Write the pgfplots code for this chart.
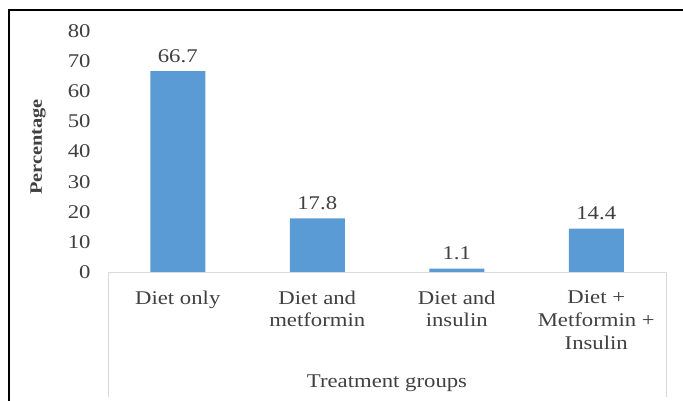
\documentclass[border=0pt]{standalone}
\usepackage{pgfplots}
\pgfplotsset{compat=1.18}
\usepackage{fontspec}
\setmainfont{Liberation Serif}[FakeStretch=1.17]
\definecolor{barblue}{HTML}{5B9BD5}
\definecolor{axgray}{HTML}{D9D9D9}
\definecolor{txtgray}{HTML}{404040}
\begin{document}
\begin{tikzpicture}[x=1bp,y=1bp]
\useasboundingbox (0,0) rectangle (683,-400);
\fill[white] (0,0) rectangle (683,-400);
\draw[line width=1.6bp] (9,-401) -- (9,-10) -- (684,-10);
\draw[axgray, line width=1bp] (108,-272) -- (108,-397);
\draw[axgray, line width=1bp] (666,-272) -- (666,-397);
\begin{axis}[
  at={(108bp,-272bp)}, anchor=south west,
  scale only axis, width=558bp, height=241bp,
  xmin=-0.5, xmax=3.5, ymin=0, ymax=80,
  ytick={0,10,...,80}, xtick={0,1,2,3},
  xticklabels={Diet only, Diet and\\metformin, Diet and\\insulin, Diet +\\Metformin +\\Insulin},
  axis line style={draw=none},
  major tick length=0pt,
  clip=false,
  font=\fontsize{19.5}{23}\selectfont,
  every tick label/.append style={text=txtgray},
  /pgf/number format/assume math mode=true,
  yticklabel style={xshift=-14bp},
  xticklabel style={align=center, yshift=-15bp},
  xlabel={Treatment groups},
  xlabel style={at={(axis description cs:0.5,0)}, anchor=center, yshift=-111bp, text=txtgray},
  ylabel={\textbf{Percentage}},
  ylabel style={at={(axis description cs:-0.1254,0.519)}, anchor=center, font=\fontsize{17.5}{20}\selectfont, text=txtgray},
  nodes near coords,
  nodes near coords style={text=txtgray, yshift=5bp, /pgf/number format/fixed, /pgf/number format/precision=1},
]
\addplot[ybar, bar width=55bp, fill=barblue, draw=none] coordinates {(0,66.7) (1,17.8) (2,1.1) (3,14.4)};
\draw[axgray, line width=1bp] (rel axis cs:0,0) -- (rel axis cs:1,0);
\end{axis}
\end{tikzpicture}
\end{document}
